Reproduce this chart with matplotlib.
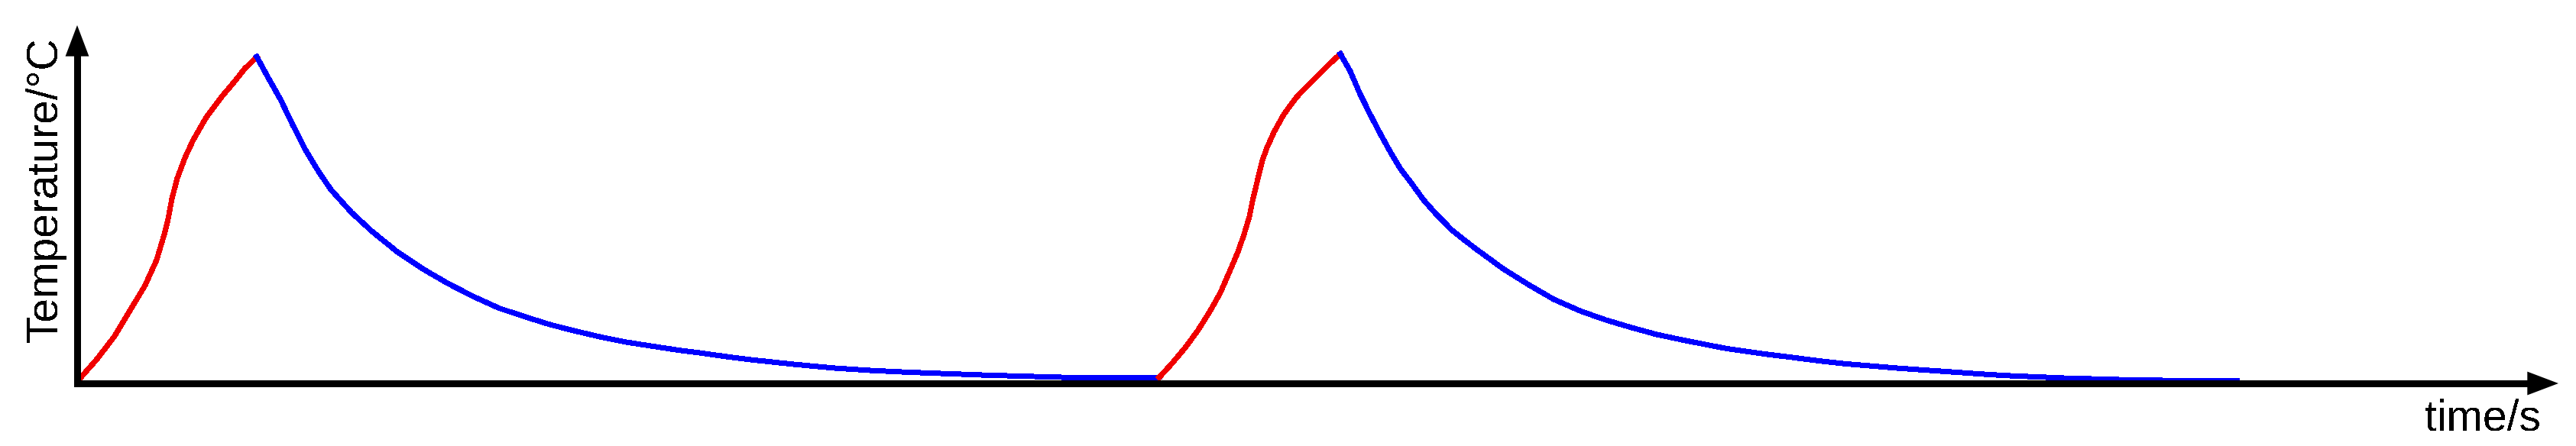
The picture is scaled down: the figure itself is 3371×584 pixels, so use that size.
import numpy as np
import matplotlib
matplotlib.use('Agg')
import matplotlib.pyplot as plt
from matplotlib.patches import ArrowStyle

# heating / cooling cycles, time in s, temperature in arbitrary units (0..100)
heat1_t = [0.0, 2.6, 4.9, 6.9, 8.9, 10.4, 11.4, 11.9, 12.4, 13.1, 14.1, 15.2, 16.9, 18.9, 20.6, 21.9, 23.5]
heat1_T = [0.5, 6.8, 13.2, 20.3, 27.4, 34.5, 41.6, 45.9, 51.6, 57.3, 63.0, 68.0, 74.3, 80.0, 84.3, 87.8, 91.2]

cool1_t = [23.5, 24.9, 26.6, 28.2, 29.9, 31.6, 33.2, 35.9, 38.6, 41.9, 45.2, 48.6, 51.9, 55.2, 58.6,
           61.9, 65.2, 68.6, 71.9, 75.2, 78.6, 81.9, 85.2, 88.6, 93.9, 98.9, 103.9, 108.9, 113.9,
           118.9, 123.9, 128.9, 133.9, 141.6]
cool1_T = [91.2, 85.7, 79.3, 72.2, 65.1, 59.1, 54.1, 47.7, 42.4, 36.7, 32.0, 27.8, 24.2, 21.0, 18.6,
           16.4, 14.6, 12.9, 11.5, 10.4, 9.3, 8.4, 7.4, 6.5, 5.3, 4.3, 3.6, 3.1, 2.7,
           2.3, 2.0, 1.7, 1.6, 1.7]

heat2_t = [141.6, 143.2, 144.9, 146.6, 148.2, 149.6, 150.9, 151.9, 152.7, 153.4, 153.8, 154.2, 154.6,
           155.1, 155.7, 156.6, 157.9, 159.6, 161.6, 163.6, 165.3]
heat2_T = [1.7, 5.4, 9.7, 14.6, 20.0, 25.3, 31.7, 36.7, 41.6, 46.6, 50.9, 54.4, 58.0,
           62.3, 65.8, 70.1, 75.1, 80.0, 84.3, 88.6, 92.0]

cool2_t = [165.3, 166.6, 167.9, 169.2, 170.6, 171.9, 173.2, 174.6, 176.2, 177.9, 179.9, 181.9, 183.2,
           186.6, 189.9, 193.2, 196.6, 199.9, 203.2, 206.6, 209.9, 213.2, 215.9, 217.9, 221.2, 224.6,
           227.9, 231.2, 234.6, 237.9, 241.2, 244.6, 249.9, 253.2, 256.6, 259.9, 263.2, 266.6,
           269.9, 273.2, 276.6, 282.7]
cool2_T = [92.0, 87.1, 80.7, 75.1, 69.4, 64.4, 59.8, 55.9, 51.2, 47.1, 42.8, 39.4, 37.3,
           32.0, 27.6, 23.5, 20.3, 17.8, 15.7, 13.7, 12.2, 10.8, 9.7, 9.1, 8.1, 7.2,
           6.3, 5.5, 4.9, 4.3, 3.8, 3.3, 2.5, 2.1, 1.8, 1.5, 1.3, 1.1,
           0.9, 0.85, 0.8, 0.8]

x_label = 'time/s'
y_label = 'Temperature/\u00b0C'

W, H = 3371, 584
RED = '#f00000'
BLUE = '#0000ff'

plt.rcParams['text.antialiased'] = False


def draw_axes_arrows(ax):
    # shafts
    ax.plot([-0.0012, 0.99], [0, 0], color='k', lw=5.2, transform=ax.transAxes,
            clip_on=False, solid_capstyle='butt', antialiased=False)
    ax.plot([0, 0], [-0.006, 0.93], color='k', lw=5.2, transform=ax.transAxes,
            clip_on=False, solid_capstyle='butt', antialiased=False)
    # heads
    style = ArrowStyle('-|>', head_length=29.3, head_width=11.1)
    for end, start in [((1, 0), (0.9, 0)), ((0, 1), (0, 0.8))]:
        ax.annotate('', xy=end, xytext=start, xycoords='axes fraction',
                    arrowprops=dict(arrowstyle=style, mutation_scale=1, lw=0,
                                    fc='k', ec='k', shrinkA=0, shrinkB=0))


def main():
    fig = plt.figure(figsize=(W / 100, H / 100), dpi=100)
    ax = fig.add_axes([101 / W, (H - 502) / H, (3348 - 101) / W, (502 - 33) / H])

    for t, T, c in [(heat1_t, heat1_T, RED), (cool1_t, cool1_T, BLUE),
                    (heat2_t, heat2_T, RED), (cool2_t, cool2_T, BLUE)]:
        ax.plot(t, T, color=c, lw=4.3, solid_joinstyle='round', antialiased=False)

    ax.set_xlim(0, 324.7)
    ax.set_ylim(0, 100)
    ax.axis('off')
    draw_axes_arrows(ax)

    fig.text(60 / W, (H - 248.5) / H, y_label, rotation=90, ha='center', va='center',
             fontsize=41, family='Liberation Sans')
    fig.text(3325 / W, (H - 563) / H, x_label, ha='right', va='baseline',
             fontsize=41, family='Liberation Sans')

    fig.savefig('out.png', dpi=100, facecolor='white')


if __name__ == "__main__":
    main()
